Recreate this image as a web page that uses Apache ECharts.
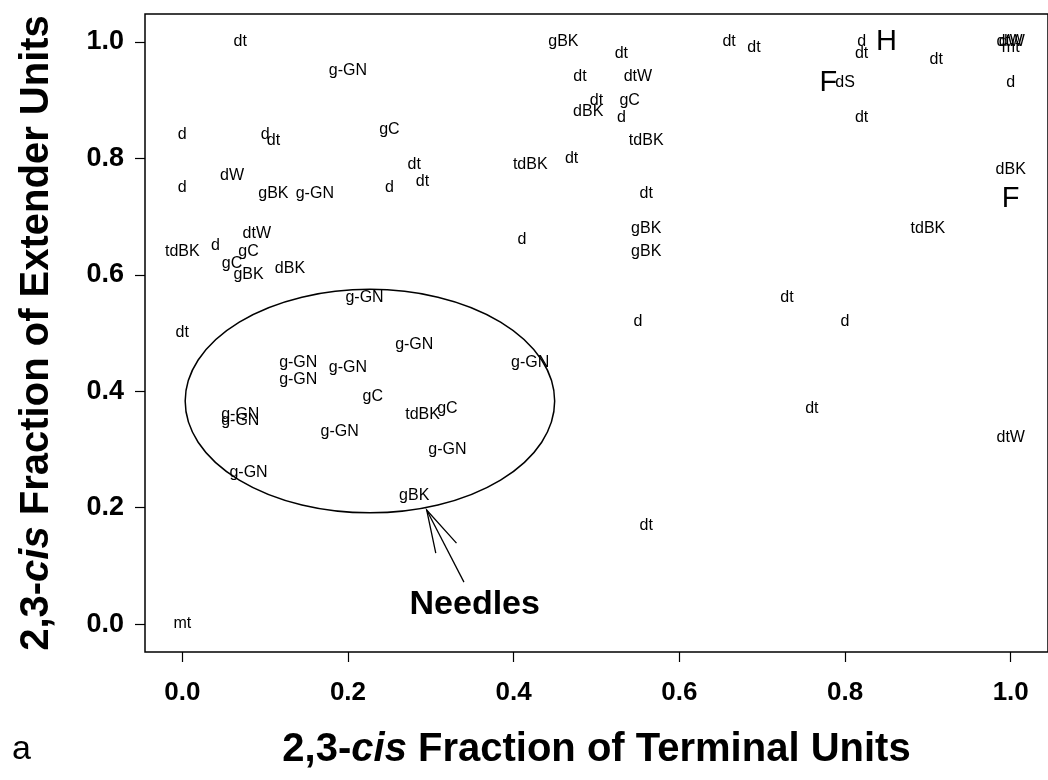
<!DOCTYPE html>
<html>
<head>
<meta charset="utf-8">
<script src="https://cdn.jsdelivr.net/npm/echarts@6/dist/echarts.min.js"></script>
<style>
  html, body { margin: 0; padding: 0; background: #fff; }
  #chart { width: 1048px; height: 780px; }
</style>
</head>
<body>
<div id="chart"></div>
<script>
// sample codes and their cis fractions (terminal, extender)
var labelNames = ['dt','g-GN','d','d','dt','gC','dt','dt','d','dW','d','gBK','g-GN','dtW','tdBK','d','gC','gC','gBK','dBK',
  'g-GN','dt','g-GN','g-GN','g-GN','g-GN','gC','g-GN','g-GN','g-GN','g-GN','gBK','tdBK','gC','g-GN','g-GN','d',
  'gBK','dt','dt','dtW','dt','dBK','gC','d','tdBK','dt','tdBK','dt','gBK','gBK','d',
  'dt','dt','d','dt','dt','dS','dt','d','dtW','dW','mt','dBK','tdBK','dt','d','dt','dtW','dt','mt'];
var terminalFrac = [0.07,0.20,0.00,0.10,0.11,0.25,0.28,0.29,0.25,0.06,0.00,0.11,0.16,0.09,0.00,0.04,0.08,0.06,0.08,0.13,
  0.22,0.00,0.28,0.14,0.14,0.20,0.23,0.07,0.07,0.19,0.08,0.28,0.29,0.32,0.32,0.42,0.55,
  0.46,0.53,0.48,0.55,0.50,0.49,0.54,0.53,0.56,0.47,0.42,0.56,0.56,0.56,0.41,
  0.66,0.69,0.82,0.82,0.91,0.80,0.82,1.00,1.00,1.00,1.00,1.00,0.90,0.73,0.80,0.76,1.00,0.56,0.00];
var extenderFrac = [1.00,0.95,0.84,0.84,0.83,0.85,0.79,0.76,0.75,0.77,0.75,0.74,0.74,0.67,0.64,0.65,0.64,0.62,0.60,0.61,
  0.56,0.50,0.48,0.45,0.42,0.44,0.39,0.36,0.35,0.33,0.26,0.22,0.36,0.37,0.30,0.45,0.52,
  1.00,0.98,0.94,0.94,0.90,0.88,0.90,0.87,0.83,0.80,0.79,0.74,0.68,0.64,0.66,
  1.00,0.99,1.00,0.98,0.97,0.93,0.87,0.93,1.00,1.00,0.99,0.78,0.68,0.56,0.52,0.37,0.32,0.17,0.00];

// the larger letters
var bigNames = ['H','F','F'];
var bigTerminal = [0.85,0.78,1.00];
var bigExtender = [1.00,0.93,0.73];

// ellipse round the needle samples: centre x, centre y, half width, half height
var needleEllipse = [0.2265, 0.383, 0.223, 0.192];
// arrow: tip, tail, two head ends
var arrowTip = [0.295, 0.196];
var arrowTail = [0.340, 0.072];
var arrowHeads = [[0.306, 0.122], [0.331, 0.139]];
var needleText = ['Needles', 0.353, 0.033];

var tickValues = [0, 0.2, 0.4, 0.6, 0.8, 1.0];

var font = 'Liberation Sans, Arial, sans-serif';

var labelData = labelNames.map(function (n, i) { return [terminalFrac[i], extenderFrac[i], n]; });
var bigData = bigNames.map(function (n, i) { return [bigTerminal[i], bigExtender[i], n]; });

var myChart = echarts.init(document.getElementById('chart'));
var option = {
  animation: false,
  backgroundColor: '#fff',
  grid: {
    left: 145, top: 14, width: 904, height: 638,
    show: true, borderColor: '#000', borderWidth: 1.5, backgroundColor: 'transparent'
  },
  graphic: [{
    type: 'text', left: 12, top: 733,
    style: { text: 'a', font: '34px ' + font, fill: '#000' }
  }],
  xAxis: {
    type: 'value', min: -0.045, max: 1.045,
    splitLine: { show: false },
    axisLine: { show: false, onZero: false },
    axisTick: { show: true, length: 10, customValues: tickValues, lineStyle: { color: '#000', width: 1.2 } },
    axisLabel: {
      customValues: tickValues, margin: 28,
      formatter: function (v) { return v.toFixed(1); },
      fontFamily: font, fontWeight: 'bold', fontSize: 26, color: '#000'
    },
    name: '2,3-{i|cis} Fraction of Terminal Units',
    nameLocation: 'middle', nameGap: 78,
    nameTextStyle: {
      fontFamily: font, fontWeight: 'bold', fontSize: 40, color: '#000',
      rich: { i: { fontFamily: font, fontWeight: 'bold', fontStyle: 'italic', fontSize: 40, color: '#000' } }
    }
  },
  yAxis: {
    type: 'value', min: -0.048, max: 1.048,
    splitLine: { show: false },
    axisLine: { show: false, onZero: false },
    axisTick: { show: true, length: 10, customValues: tickValues, lineStyle: { color: '#000', width: 1.2 } },
    axisLabel: {
      customValues: tickValues, margin: 21,
      formatter: function (v) { return v.toFixed(1); },
      fontFamily: font, fontWeight: 'bold', fontSize: 27, color: '#000'
    },
    name: '2,3-{i|cis} Fraction of Extender Units',
    nameLocation: 'middle', nameGap: 88, nameRotate: 90,
    nameTextStyle: {
      fontFamily: font, fontWeight: 'bold', fontSize: 40, color: '#000',
      rich: { i: { fontFamily: font, fontWeight: 'bold', fontStyle: 'italic', fontSize: 40, color: '#000' } }
    }
  },
  series: [
    {
      type: 'scatter', data: labelData, symbolSize: 0, silent: true,
      itemStyle: { opacity: 1 },
      label: {
        show: true, position: 'inside',
        formatter: function (p) { return p.value[2]; },
        fontFamily: font, fontSize: 16, color: '#000'
      }
    },
    {
      type: 'scatter', data: bigData, symbolSize: 0, silent: true,
      itemStyle: { opacity: 1 },
      label: {
        show: true, position: 'inside',
        formatter: function (p) { return p.value[2]; },
        fontFamily: font, fontSize: 29, color: '#000'
      }
    },
    {
      type: 'scatter', data: [[needleText[1], needleText[2], needleText[0]]], symbolSize: 0, silent: true,
      itemStyle: { opacity: 1 },
      label: {
        show: true, position: 'inside',
        formatter: function (p) { return p.value[2]; },
        fontFamily: font, fontWeight: 'bold', fontSize: 34, color: '#000'
      }
    },
    {
      // ellipse
      type: 'custom', silent: true,
      data: [needleEllipse],
      renderItem: function (params, api) {
        var c = api.coord([api.value(0), api.value(1)]);
        var s = api.size([api.value(2), api.value(3)]);
        var rx = s[0], ry = s[1];
        var d = 'M' + (c[0] - rx) + ' ' + c[1] +
          ' A' + rx + ' ' + ry + ' 0 1 0 ' + (c[0] + rx) + ' ' + c[1] +
          ' A' + rx + ' ' + ry + ' 0 1 0 ' + (c[0] - rx) + ' ' + c[1] + ' Z';
        return { type: 'path', shape: { pathData: d }, style: { fill: 'none', stroke: '#000', lineWidth: 1.5 } };
      }
    },
    {
      // arrow pointing at the ellipse
      type: 'custom', silent: true,
      data: [[arrowTip[0], arrowTip[1], arrowTail[0], arrowTail[1],
        arrowHeads[0][0], arrowHeads[0][1], arrowHeads[1][0], arrowHeads[1][1]]],
      renderItem: function (params, api) {
        var tip = api.coord([api.value(0), api.value(1)]);
        var tail = api.coord([api.value(2), api.value(3)]);
        var h1 = api.coord([api.value(4), api.value(5)]);
        var h2 = api.coord([api.value(6), api.value(7)]);
        var st = { stroke: '#000', lineWidth: 1.3, fill: 'none' };
        return {
          type: 'group',
          children: [
            { type: 'line', shape: { x1: tail[0], y1: tail[1], x2: tip[0], y2: tip[1] }, style: st },
            { type: 'polyline', shape: { points: [h1, tip, h2] }, style: st }
          ]
        };
      }
    }
  ]
};
myChart.setOption(option);
</script>
</body>
</html>
